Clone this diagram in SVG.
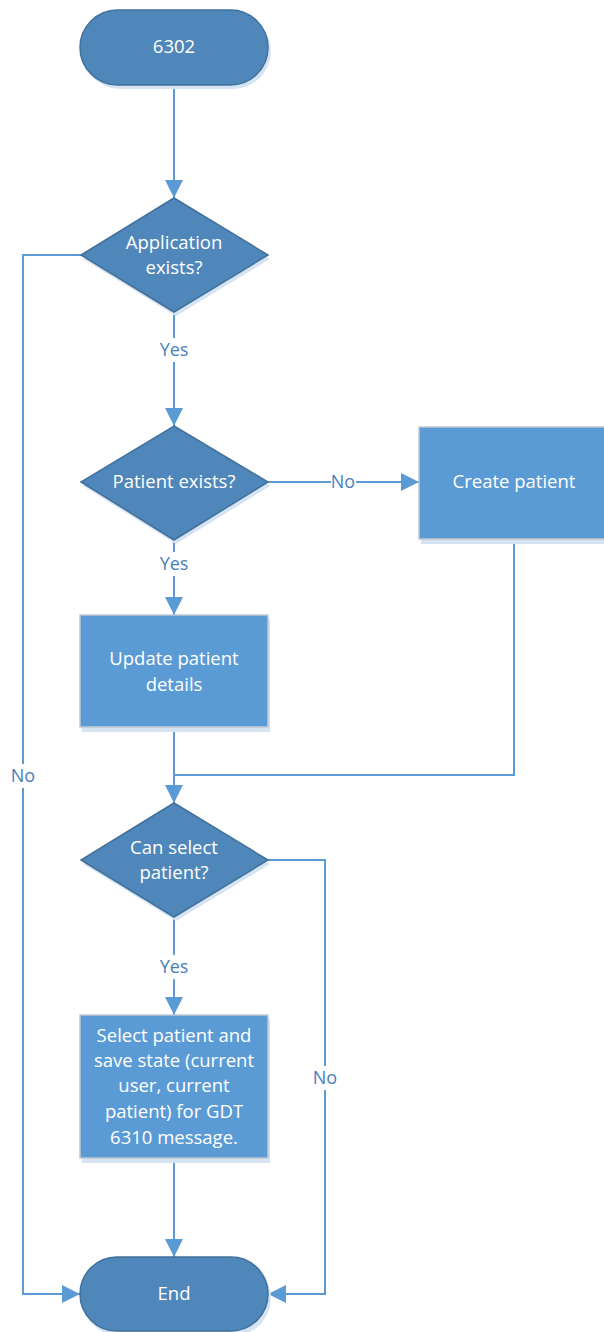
<svg xmlns="http://www.w3.org/2000/svg" width="604" height="1332" viewBox="0 0 604 1332">
<style>
.dark{fill:#4F87BA;stroke:#41719C;stroke-width:1.5}
.rect{fill:#5B9BD5;stroke:#C0C8D0;stroke-width:1.5}
.shadow{fill:#D5E3F2}
.t{font-family:"Open Sans",sans-serif;font-size:18.5px;fill:#FFFFFF;text-anchor:middle}
.lbl{font-family:"Open Sans",sans-serif;font-size:18px;fill:#4A7EBB;text-anchor:middle}
.c{fill:none;stroke:#5B9BD5;stroke-width:2}
.bg{fill:#FFFFFF}
</style>
<defs>
<marker id="ah" markerUnits="userSpaceOnUse" markerWidth="18" markerHeight="18" refX="18" refY="9" orient="auto">
<path d="M0,0 L18,9 L0,18 z" fill="#5B9BD5"/>
</marker>
</defs>
<g id="connectors">
<path class="c" d="M174,85 L174,198" marker-end="url(#ah)"/>
<path class="c" d="M174,312 L174,426" marker-end="url(#ah)"/>
<path class="c" d="M268,482 L419,482" marker-end="url(#ah)"/>
<path class="c" d="M174,540 L174,615" marker-end="url(#ah)"/>
<path class="c" d="M514,539 L514,775 L174,775"/>
<path class="c" d="M174,727 L174,803" marker-end="url(#ah)"/>
<path class="c" d="M174,917 L174,1015" marker-end="url(#ah)"/>
<path class="c" d="M174,1158 L174,1257" marker-end="url(#ah)"/>
<path class="c" d="M81,255 L23,255 L23,1294 L80,1294" marker-end="url(#ah)"/>
<path class="c" d="M268,860 L325,860 L325,1294 L268,1294" marker-end="url(#ah)"/>
<rect class="bg" x="157" y="338" width="34" height="24"/>
<text class="lbl" x="174" y="356">Yes</text>
<rect class="bg" x="331" y="470" width="25" height="24"/>
<text class="lbl" x="343" y="488">No</text>
<rect class="bg" x="157" y="552" width="34" height="24"/>
<text class="lbl" x="174" y="570">Yes</text>
<rect class="bg" x="157" y="955" width="34" height="24"/>
<text class="lbl" x="174" y="973">Yes</text>
<rect class="bg" x="11" y="764" width="25" height="24"/>
<text class="lbl" x="23" y="782">No</text>
<rect class="bg" x="313" y="1066" width="25" height="24"/>
<text class="lbl" x="325" y="1084">No</text>
</g>
<g id="start">
<rect class="shadow" x="82" y="13" width="189" height="76" rx="38"/>
<rect class="dark" x="80" y="10" width="188" height="75" rx="37.5"/>
<text class="t" x="174" y="53">6302</text>
</g>
<g id="app-exists">
<polygon class="shadow" points="176,202 270,259 176,316 83,259"/>
<polygon class="dark" points="174,198 268,255 174,312 81,255"/>
<text class="t" x="174" y="249">Application</text>
<text class="t" x="174" y="274">exists?</text>
</g>
<g id="patient-exists">
<polygon class="shadow" points="176,430 270,486 176,544 83,486"/>
<polygon class="dark" points="174,426 268,482 174,540 81,482"/>
<text class="t" x="174" y="488">Patient exists?</text>
</g>
<g id="create-patient">
<rect class="shadow" x="421" y="431" width="185" height="113"/>
<rect class="rect" x="419" y="427" width="186" height="112"/>
<text class="t" x="514" y="488">Create patient</text>
</g>
<g id="update-patient">
<rect class="shadow" x="82" y="619" width="188" height="113"/>
<rect class="rect" x="80" y="615" width="188" height="112"/>
<text class="t" x="174" y="665">Update patient</text>
<text class="t" x="174" y="691">details</text>
</g>
<g id="can-select">
<polygon class="shadow" points="176,807 270,864 176,921 83,864"/>
<polygon class="dark" points="174,803 268,860 174,917 81,860"/>
<text class="t" x="174" y="854">Can select</text>
<text class="t" x="174" y="879">patient?</text>
</g>
<g id="select-patient">
<rect class="shadow" x="82" y="1019" width="188" height="144"/>
<rect class="rect" x="80" y="1015" width="188" height="143"/>
<text class="t" x="174" y="1042">Select patient and</text>
<text class="t" x="174" y="1067">save state (current</text>
<text class="t" x="174" y="1092">user, current</text>
<text class="t" x="174" y="1118">patient) for GDT</text>
<text class="t" x="174" y="1144">6310 message.</text>
</g>
<g id="end">
<rect class="shadow" x="82" y="1260" width="189" height="76" rx="38"/>
<rect class="dark" x="80" y="1257" width="188" height="74" rx="37"/>
<text class="t" x="174" y="1300">End</text>
</g>
</svg>
